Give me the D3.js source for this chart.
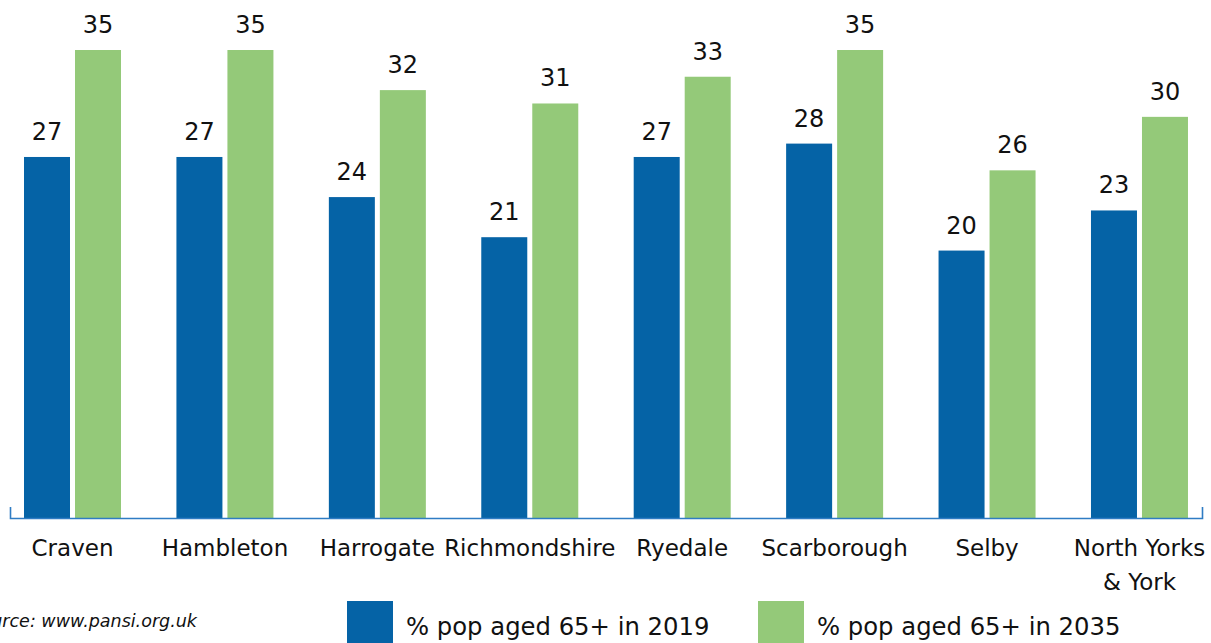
<!DOCTYPE html>
<html>
<head>
<meta charset="utf-8">
<script src="https://cdn.jsdelivr.net/npm/d3@7"></script>
<style>
  html, body { margin: 0; padding: 0; background: #fff; overflow: hidden; }
  svg { display: block; }
  text { font-family: "DejaVu Sans", sans-serif; fill: #111; }
</style>
</head>
<body>
<svg id="chart" width="1211" height="643"></svg>
<script>
const categories = ["Craven", "Hambleton", "Harrogate", "Richmondshire", "Ryedale", "Scarborough", "Selby", "North Yorks\n& York"];
const seriesNames = ["% pop aged 65+ in 2019", "% pop aged 65+ in 2035"];
const values2019 = [27, 27, 24, 21, 27, 28, 20, 23];
const values2035 = [35, 35, 32, 31, 33, 35, 26, 30];
const colors = ["#0563a6", "#94c979"];
const sourceText = "Source: www.pansi.org.uk";

const svg = d3.select("#chart");
const baseline = 518;

const x0 = d3.scaleBand().domain(categories).range([-3.7, 1215.7]).paddingInner(0).paddingOuter(0);
const x1 = d3.scaleBand().domain(seriesNames).range([27.7, 124.7]).paddingInner(5 / 51).paddingOuter(0);
const y = d3.scaleLinear().domain([0, 35]).range([baseline, 50]);

const seriesValues = [values2019, values2035];
const rows = categories.map((c, i) => ({ cat: c, vals: seriesNames.map((s, j) => ({ s, j, v: seriesValues[j][i] })) }));

const groups = svg.append("g").selectAll("g").data(rows).join("g")
  .attr("transform", d => `translate(${x0(d.cat)},0)`);

groups.selectAll("rect").data(d => d.vals).join("rect")
  .attr("x", d => x1(d.s))
  .attr("width", x1.bandwidth())
  .attr("y", d => y(d.v))
  .attr("height", d => y(0) - y(d.v))
  .attr("fill", d => colors[d.j]);

groups.selectAll("text.val").data(d => d.vals).join("text")
  .attr("class", "val")
  .attr("x", d => x1(d.s) + x1.bandwidth() / 2)
  .attr("y", d => y(d.v) - 17)
  .attr("text-anchor", "middle")
  .style("font-size", "24px")
  .text(d => d.v);

// axis line with end ticks
svg.append("path")
  .attr("d", `M10.5,507V${baseline + 0.5}H1202.5V507`)
  .attr("fill", "none")
  .attr("stroke", "#2f7cc4")
  .attr("stroke-width", 1.6);

// category labels
const catLabels = svg.append("g").selectAll("text").data(categories).join("text")
  .attr("x", d => x0(d) + x0.bandwidth() / 2)
  .attr("y", 556)
  .attr("text-anchor", "middle")
  .style("font-size", "23px");
catLabels.each(function(d) {
  const lines = d.split("\n");
  const t = d3.select(this);
  lines.forEach((ln, i) => {
    t.append("tspan").attr("x", x0(d) + x0.bandwidth() / 2).attr("dy", i === 0 ? 0 : 34).text(ln);
  });
});

// source
svg.append("text")
  .attr("x", 197)
  .attr("y", 627)
  .attr("text-anchor", "end")
  .style("font-size", "17.5px")
  .style("font-style", "italic")
  .text(sourceText);

// legend
const legendX = [347, 758];
const legend = svg.append("g").selectAll("g").data(seriesNames).join("g")
  .attr("transform", (d, i) => `translate(${legendX[i]},601)`);
legend.append("rect").attr("width", 46).attr("height", 46).attr("fill", (d, i) => colors[i]);
legend.append("text").attr("x", 59).attr("y", 34).style("font-size", "24.3px").text(d => d);
</script>
</body>
</html>
